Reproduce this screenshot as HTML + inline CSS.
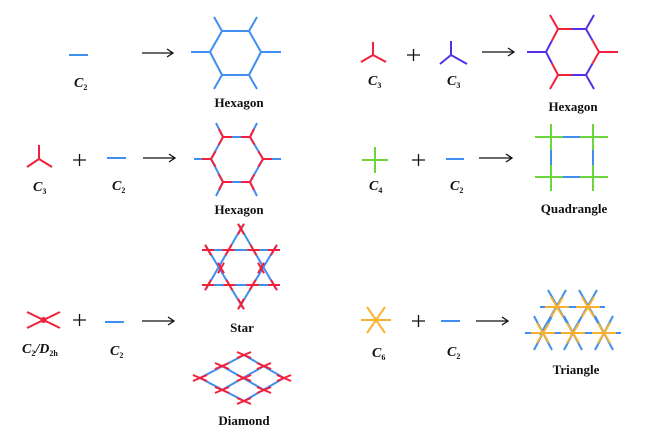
<!DOCTYPE html>
<html><head><meta charset="utf-8"><style>
body{margin:0;background:#fff;}
svg{display:block}
text{font-family:"Liberation Serif",serif;font-weight:bold;fill:#111}
.c{font-style:italic;font-size:14px}
.s{font-size:8px;font-style:normal}
.h{font-size:13px}
.b{stroke:#3f8ef0;stroke-width:2;fill:none}
.r{stroke:#f2203a;stroke-width:2;fill:none}
.p{stroke:#5530e6;stroke-width:2;fill:none}
.g{stroke:#6cd43c;stroke-width:2;fill:none}
.o{stroke:#f6b22e;stroke-width:2;fill:none}
.a{stroke:#111;stroke-width:1.3;fill:none}
</style></head><body>
<svg width="650" height="434" viewBox="0 0 650 434">
<!-- Panel 1 -->
<line class="b" x1="69" y1="55" x2="88" y2="55"/>
<text class="c" x="74" y="87">C<tspan class="s" dy="3">2</tspan></text>
<path class="a" d="M142 53H173M167 49L173 53L167 57"/>
<path class="b" d="M210 52L222 31H249L261 52L249 75H222Z M210 52H191 M261 52H281 M222 31L214 17 M249 31L257 17 M222 75L214 89 M249 75L257 89"/>
<text class="h" x="239" y="107" text-anchor="middle">Hexagon</text>

<!-- Panel 2 -->
<path class="r" d="M39 159V145M39 159L27 167M39 159L52 167"/>
<text class="c" x="33" y="191">C<tspan class="s" dy="3">3</tspan></text>
<path class="a" d="M73 160H86M79.5 154V166"/>
<line class="b" x1="107" y1="158" x2="126" y2="158"/>
<text class="c" x="112" y="190">C<tspan class="s" dy="3">2</tspan></text>
<path class="a" d="M143 158H175M169 154L175 158L169 162"/>
<path class="b" d="M211 159L223 137H250L263 159L250 182H223Z M211 159H194 M263 159H281 M223 137L216 123 M250 137L257 123 M223 182L216 196 M250 182L257 196"/>
<path class="r" d="M232 137H223L218.7 144.9M223 137L219 129 M241 137H250L254.6 144.8M250 137L254 129 M258.4 151.2L263 159L258.4 166.8M263 159H272 M241 182H250L254.4 174.2M250 182L254 190 M232 182H223L218.6 174.2M223 182L219 190 M215.6 151.2L211 159L215.6 166.8M211 159H202"/>
<text class="h" x="239" y="214" text-anchor="middle">Hexagon</text>

<!-- Panel 3 -->
<path class="r" d="M373 55V42M373 55L361 62M373 55L386 62"/>
<text class="c" x="368" y="85">C<tspan class="s" dy="3">3</tspan></text>
<path class="a" d="M407 55H420M413.5 49V61"/>
<path class="p" d="M451 55V41M451 55L440 64M451 55L467 64"/>
<text class="c" x="447" y="85">C<tspan class="s" dy="3">3</tspan></text>
<path class="a" d="M482 52H514M508 48L514 52L508 56"/>
<path class="p" d="M527 52H546L552 40.5M546 52L552 63.5 M572 29H586L592.5 40.5M586 29L594 15 M572 75H586L592.5 63.5M586 75L594 89"/>
<path class="r" d="M552 40.5L558 29H572M558 29L550 15 M592.5 40.5L599 52L592.5 63.5M599 52H618 M552 63.5L558 75H572M558 75L550 89"/>
<text class="h" x="573" y="111" text-anchor="middle">Hexagon</text>

<!-- Panel 4 -->
<path class="g" d="M362 160H388M375 147V173"/>
<text class="c" x="369" y="190">C<tspan class="s" dy="3">4</tspan></text>
<path class="a" d="M412 160H425M418.5 154V166"/>
<line class="b" x1="446" y1="159" x2="464" y2="159"/>
<text class="c" x="450" y="190">C<tspan class="s" dy="3">2</tspan></text>
<path class="a" d="M479 158H512M506 154L512 158L506 162"/>
<path class="b" d="M563 137H580M563 177H580M551 150V165M593 150V165"/>
<path class="g" d="M535 137H563M580 137H608 M535 177H563M580 177H608 M551 124V150M551 165V191 M593 124V150M593 165V191"/>
<text class="h" x="574" y="213" text-anchor="middle">Quadrangle</text>

<!-- Panel 5 -->
<path class="r" d="M27 312L60 328M27 328L60 312"/>
<circle cx="43.5" cy="320" r="3" fill="#f2203a"/>
<text class="c" x="22" y="353">C<tspan class="s" dy="3">2</tspan><tspan dy="-3">/D</tspan><tspan class="s" dy="3">2h</tspan></text>
<path class="a" d="M73 320H86M79.5 314V326"/>
<line class="b" x1="105" y1="322" x2="124" y2="322"/>
<text class="c" x="110" y="355">C<tspan class="s" dy="3">2</tspan></text>
<path class="a" d="M142 321H174M168 317L174 321L168 325"/>
<path class="b" d="M243 225L206 289M239 225L276 289M204 285H278 M243 308L206 246M239 308L276 246M204 250H278"/>
<path class="r" d="M238 234.2L244 223.8M244 234.2L238 223.8
M238 309.2L244 298.8M244 309.2L238 298.8
M202 250H214M205 244.8L211 255.2
M268 250H280M277 244.8L271 255.2
M202 285H214M211 279.8L205 290.2
M268 285H280M271 279.8L277 290.2
M222.6 250H234.6M231.6 244.8L225.6 255.2
M247.4 250H259.4M250.4 244.8L256.4 255.2
M223.4 285H235.4M226.4 279.8L232.4 290.2
M246.6 285H258.6M255.6 279.8L249.6 290.2
M224 262.8L218 273.2M218 262.8L224 273.2
M264 262.8L258 273.2M258 262.8L264 273.2"/>
<text class="h" x="242" y="332" text-anchor="middle">Star</text>
<path class="b" d="M244 355L284 378L244 401L200 378Z M222 366L264 390 M264 366L222 390"/>
<g class="r">
<path d="M237 352L251 358M237 358L251 352"/>
<path d="M215 363L229 369M215 369L229 363"/>
<path d="M257 363L271 369M257 369L271 363"/>
<path d="M193 375L207 381M193 381L207 375"/>
<path d="M237 375L251 381M237 381L251 375"/>
<path d="M277 375L291 381M277 381L291 375"/>
<path d="M215 387L229 393M215 393L229 387"/>
<path d="M257 387L271 393M257 393L271 387"/>
<path d="M237 398L251 404M237 404L251 398"/>
</g>
<text class="h" x="244" y="425" text-anchor="middle">Diamond</text>

<!-- Panel 6 -->
<path class="o" d="M361 320H391M367 307L385 333M385 307L367 333"/>
<text class="c" x="372" y="357">C<tspan class="s" dy="3">6</tspan></text>
<path class="a" d="M412 321H425M418.5 315V327"/>
<line class="b" x1="441" y1="321" x2="460" y2="321"/>
<text class="c" x="447" y="356">C<tspan class="s" dy="3">2</tspan></text>
<path class="a" d="M476 321H508M502 317L508 321L502 325"/>
<path class="b" d="M540 307H605M525 333H621
M548 290L574 335M566 290L540 335
M579 290L605 335M597 290L571 335
M534 316L552 350M552 316L534 350
M564 316L582 350M582 316L564 350
M595 316L613 350M613 316L595 350"/>
<g class="o">
<path d="M545 307H569M551 297L563 317M563 297L551 317"/>
<path d="M576 307H600M582 297L594 317M594 297L582 317"/>
<path d="M531 333H555M537 323L549 343M549 323L537 343"/>
<path d="M561 333H585M567 323L579 343M579 323L567 343"/>
<path d="M592 333H616M598 323L610 343M610 323L598 343"/>
</g>
<text class="h" x="576" y="374" text-anchor="middle">Triangle</text>
</svg>
</body></html>
